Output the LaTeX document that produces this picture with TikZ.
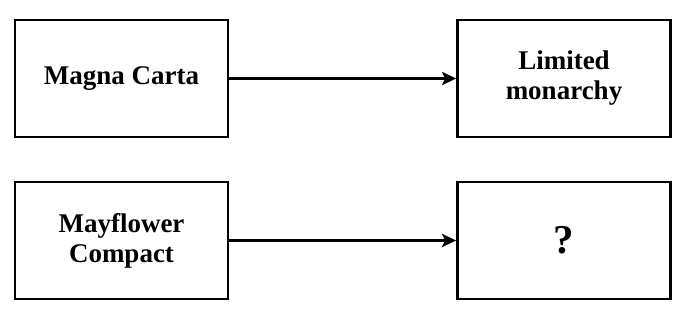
\documentclass[tikz,border=0pt]{standalone}
\usepackage{fontspec}
\setmainfont{Liberation Serif}
\usetikzlibrary{arrows.meta}
\begin{document}
\begin{tikzpicture}[
    x=1pt,
    y=-1pt,
    flowedge/.style={-{Stealth[length=14pt,width=13pt,inset=3pt]}, line width=2.7pt},
    event/.style={draw, line width=2.7pt, minimum width=213pt, minimum height=117pt, align=center, inner sep=0pt},
    every node/.style={font=\fontsize{27}{30}\selectfont\bfseries}
  ]
  \useasboundingbox (0,0) rectangle (694,318);

  \node[event] (magna) at (121.5,78.5) {Magna Carta};
  \node[event] (limited) at (564,78.5) {Limited\\monarchy};

  \node[event] (mayflower) at (121.5,240.5) {Mayflower\\Compact};
  \node[event] (unknown) at (564,240.5) {\fontsize{41}{44}\selectfont ?};

  \draw[flowedge] (magna.east) -- (limited.west);
  \draw[flowedge] (mayflower.east) -- (unknown.west);
\end{tikzpicture}
\end{document}
